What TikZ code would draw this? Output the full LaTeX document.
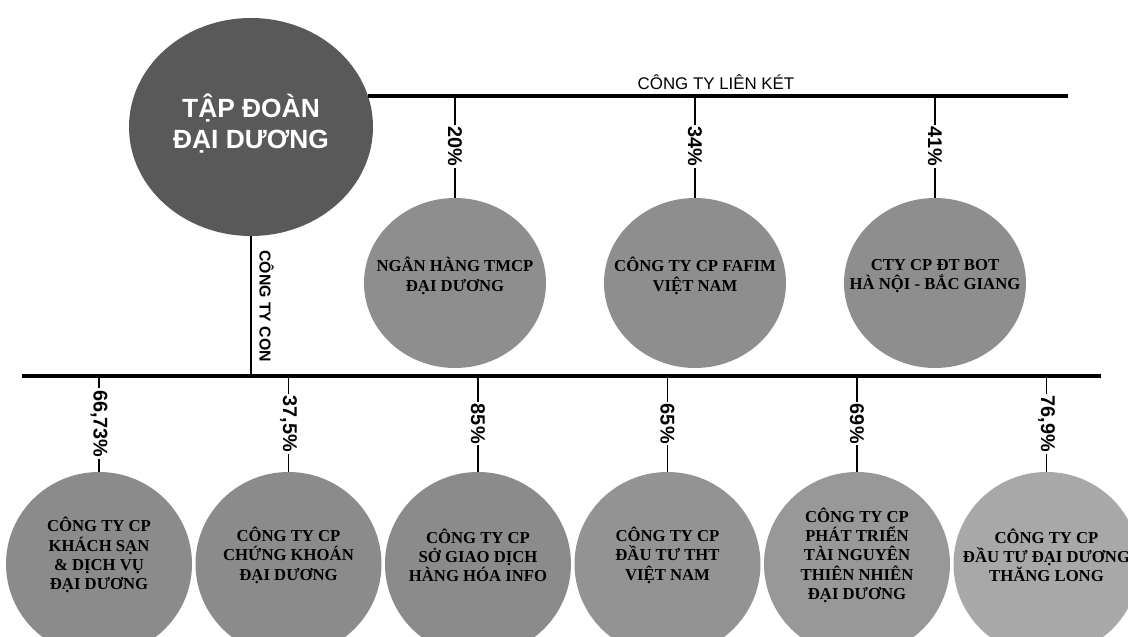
\documentclass[tikz,border=0pt]{standalone}
\usepackage{fontspec}
\setmainfont{Liberation Serif}
\setsansfont{Liberation Sans}
\usepackage{tikz}
\usetikzlibrary{shapes.geometric}
\usetikzlibrary{positioning}

\definecolor{bigball}{HTML}{595959}
\definecolor{topball}{HTML}{8E8E8E}
\definecolor{ballA}{HTML}{8B8B8B}
\definecolor{ballB}{HTML}{939393}
\definecolor{ballC}{HTML}{989898}
\definecolor{ballD}{HTML}{A8A8A8}

\begin{document}
\begin{tikzpicture}
\tikzstyle{bar} = [line width=2.3pt]
\tikzstyle{drop} = [line width=0.8pt]
\tikzstyle{ball} = [ellipse, inner sep=0pt]
\tikzstyle{balltext} = [align=center, font=\bfseries\fontsize{9.5}{11}\selectfont]
\tikzstyle{pct} = [fill=white, inner sep=1pt, rotate=-90, font=\sffamily\bfseries\fontsize{11.3}{11}\selectfont]

\useasboundingbox (0,0) rectangle (22.56,-12.74);

\node[ball, fill=bigball, minimum width=4.88cm, minimum height=4.36cm] (tap) at (5.02,-2.54) {};
\node[text=white, align=center, font=\sffamily\bfseries\fontsize{15}{18}\selectfont] (taptext) at ([yshift=2pt]tap.center) {TẬP ĐOÀN\\ĐẠI DƯƠNG};

% cong ty lien ket
\coordinate (lkend) at (21.36,-1.91);
\draw[bar] (tap.15) -- (tap.15 -| lkend);
\node[font=\sffamily\fontsize{9.6}{9}\selectfont] (lk) at (14.32,-1.65) {CÔNG TY LIÊN KÉT};

\foreach \x/\p/\t [count=\i] in {9.1/20\%/{NGÂN HÀNG TMCP\\ĐẠI DƯƠNG}, 13.9/34\%/{CÔNG TY CP FAFIM\\VIỆT NAM}, 18.7/41\%/{CTY CP ĐT BOT\\HÀ NỘI - BẮC GIANG}} {
\node[ball, fill=topball, minimum width=3.64cm, minimum height=3.4cm] (lc\i) at (\x,-5.66) {};
\node[balltext] (lt\i) at ([yshift=4pt]lc\i.center) {\t};
\draw[drop] (lc\i.north |- tap.15) -- node[pct] {\p} (lc\i.north);
}

% cong ty con
\coordinate (conl) at (0.44,-7.52);
\coordinate (conr) at (22.02,-7.52);
\draw[bar] (conl) -- (conr);
\draw[line width=1.7pt] (tap.south) -- (tap.south |- conl)
node[midway, rotate=-90, anchor=south, inner sep=4pt, font=\sffamily\bfseries\fontsize{9}{9}\selectfont] (con) {CÔNG TY CON};

\foreach \x/\p/\t/\c [count=\i] in {
1.98/{66,73\%}/{CÔNG TY CP\\KHÁCH SẠN\\\& DỊCH VỤ\\ĐẠI DƯƠNG}/ballA,
5.77/{37,5\%}/{CÔNG TY CP\\CHỨNG KHOÁN\\ĐẠI DƯƠNG}/ballA,
9.56/{85\%}/{CÔNG TY CP\\SỞ GIAO DỊCH\\HÀNG HÓA INFO}/ballA,
13.35/{65\%}/{CÔNG TY CP\\ĐẦU TƯ THT\\VIỆT NAM}/ballB,
17.14/{69\%}/{CÔNG TY CP\\PHÁT TRIỂN\\TÀI NGUYÊN\\THIÊN NHIÊN\\ĐẠI DƯƠNG}/ballC,
20.93/{76,9\%}/{CÔNG TY CP\\ĐẦU TƯ ĐẠI DƯƠNG\\THĂNG LONG}/ballD} {
\node[ball, fill=\c, minimum width=3.72cm, minimum height=3.68cm] (bc\i) at (\x,-11.28) {};
\node[balltext] (bt\i) at ([yshift=5pt]bc\i.center) {\t};
\draw[drop] (bc\i.north |- conl) -- node[pct] {\p} (bc\i.north);
}

\end{tikzpicture}
\end{document}
